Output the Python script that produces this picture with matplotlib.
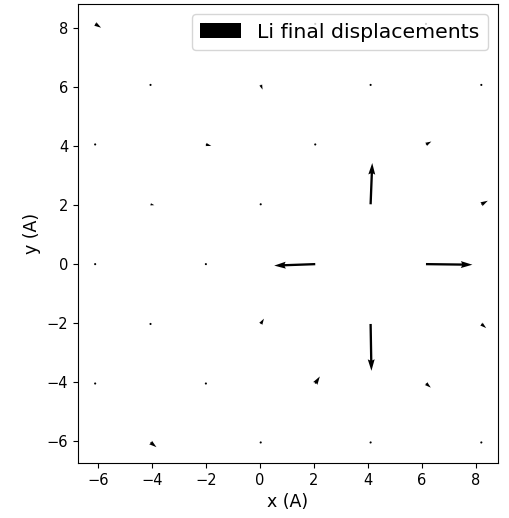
import matplotlib
matplotlib.use("Agg")
import matplotlib.pyplot as plt
import numpy as np

# Li site positions (A)
x_pos = [-6.1, -4.05, 0.03, 4.1, 8.2,
         -6.1, -2.0, 2.05, 6.15,
         -4.05, 0.03, 4.1, 8.2,
         -6.1, -2.0, 2.05, 6.15,
         -4.05, 0.03, 4.1, 8.2,
         -6.1, -2.0, 2.05, 6.15,
         -4.05, 0.03, 4.1, 8.2,
         -2.0, 2.05, 6.15]
y_pos = [8.15, 6.08, 6.08, 6.08, 6.08,
         4.06, 4.06, 4.06, 4.06,
         2.03, 2.03, 2.03, 2.03,
         0.0, 0.0, 0.0, 0.0,
         -2.03, -2.03, -2.03, -2.03,
         -4.05, -4.05, -4.05, -4.05,
         -6.05, -6.05, -6.05, -6.05,
         8.15, 8.15, 8.15]
# final displacements (A)
u_disp = [0.22, 0.02, 0.07, 0.02, 0.01,
          0.02, 0.2, 0.02, 0.2,
          0.14, 0.02, 0.06, 0.24,
          0.02, 0.02, -1.52, 1.72,
          0.02, 0.12, 0.03, 0.18,
          0.02, 0.01, 0.17, 0.18,
          0.22, 0.02, 0.02, 0.02,
          0.02, 0.02, 0.02]
v_disp = [-0.13, 0.02, -0.16, 0.02, 0.01,
          0.02, -0.05, 0.02, 0.1,
          -0.03, 0.02, 1.40, 0.12,
          0.0, 0.02, -0.05, -0.02,
          0.02, 0.18, -1.59, -0.14,
          0.02, 0.01, 0.24, -0.14,
          -0.16, 0.02, 0.02, 0.02,
          0.02, 0.02, 0.02]

fig = plt.figure(figsize=(5.09, 5.18), dpi=100)
ax = fig.add_axes([0.153, 0.106, 0.825, 0.886])
ax.quiver(x_pos, y_pos, u_disp, v_disp, angles='xy', scale_units='xy', scale=1,
          color='black', width=0.0055, label='Li final displacements')
ax.set_xlim(-6.74, 8.81)
ax.set_ylim(-6.75, 8.82)
ax.set_xticks([-6, -4, -2, 0, 2, 4, 6, 8])
ax.set_yticks([-6, -4, -2, 0, 2, 4, 6, 8])
ax.tick_params(labelsize=10.5)
ax.set_xlabel('x (A)', fontsize=12.5)
ax.set_ylabel('y (A)', fontsize=12.5)
ax.legend(loc='upper right', fontsize=14.7)
fig.savefig('out.png', dpi=100)
